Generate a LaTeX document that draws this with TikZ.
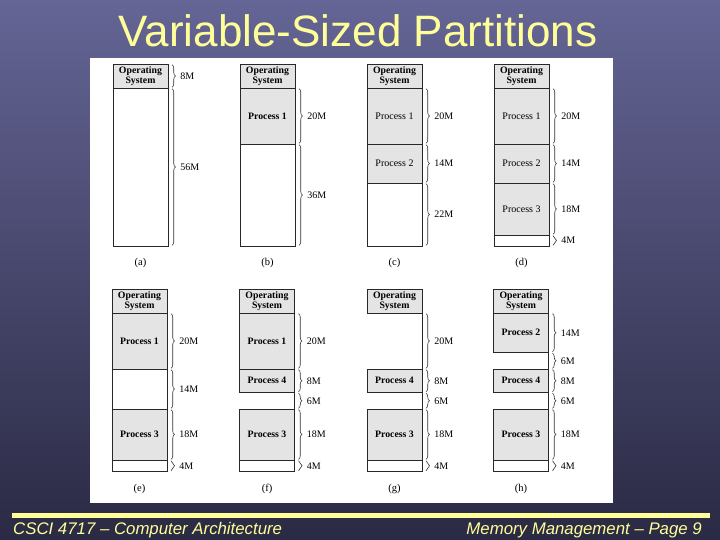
\documentclass[tikz,border=0pt]{standalone}
\usepackage{fontspec}
\setmainfont{Liberation Serif}
\newfontfamily\sansf{Liberation Sans}
\usetikzlibrary{decorations.pathreplacing,calc}
\definecolor{bgtop}{RGB}{101,101,150}
\definecolor{bgmid}{RGB}{80,80,123}
\definecolor{bgbot}{RGB}{42,42,68}
\definecolor{ylw}{RGB}{255,255,153}
\definecolor{boxgray}{RGB}{228,228,228}
\definecolor{edgecol}{RGB}{40,40,40}
\tikzset{
  memblk/.style={draw=edgecol, line width=0.8pt, fill=boxgray, inner sep=0pt, outer sep=0pt,
    minimum width=55pt, anchor=north west, align=center},
  freeblk/.style={draw=edgecol, line width=0.8pt, fill=none, inner sep=0pt, outer sep=0pt,
    minimum width=55pt, anchor=north west},
  openblk/.style={draw=none, fill=none, inner sep=0pt, outer sep=0pt,
    minimum width=55pt, anchor=north west},
  edgeline/.style={draw=edgecol, line width=0.8pt},
  bt/.style={font=\fontsize{9.8}{10}\selectfont\bfseries},
  rt/.style={font=\fontsize{10}{10}\selectfont},
  brc/.style={decorate, decoration={brace, amplitude=3.5pt}, draw=black!80, line width=0.6pt},
  blabel/.style={midway, anchor=west, xshift=8pt, inner sep=0pt, font=\fontsize{10}{10}\selectfont},
  sublabel/.style={inner sep=0pt, font=\fontsize{10.5}{10.5}\selectfont},
}
% name, x, ytop, ybot, style, text
\newcommand\mblk[6]{\node[#5, minimum height={(#4-#3)*1pt}] (#1) at (#2,#3) {#6};}
\newcommand\mbrace[2]{\draw[brc] ([shift={(4,0.7)}]#1.north east) -- ([shift={(4,-0.7)}]#1.south east) node[blabel] (#1-l) {#2};}
\newcommand\ros[2]{\node[memblk, bt, minimum height=24pt] (#1) at (#2,64) {Operating\\System};}
\newcommand\bos[2]{\node[memblk, bt, minimum height=24pt] (#1) at (#2,289) {Operating\\System};}
\begin{document}
\begin{tikzpicture}[x=1pt,y=-1pt]
\useasboundingbox (0,0) rectangle (720,540);
\shade[top color=bgtop, middle color=bgmid, bottom color=bgbot] (0,0) rectangle (720,540);
\fill[white] (90,58.5) rectangle (613,503);
\node[anchor=base, inner sep=0pt, text=ylw, font=\sansf\fontsize{44}{44}\selectfont] (title) at (358,47) {Variable-Sized Partitions};
\fill[ylw] (12,513) rectangle (710,518);
\node[anchor=base west, inner sep=0pt, text=ylw, font=\sansf\itshape\fontsize{16.8}{16.8}\selectfont] (footl) at (13,534) {CSCI 4717 – Computer Architecture};
\node[anchor=base east, inner sep=0pt, text=ylw, font=\sansf\itshape\fontsize{16.8}{16.8}\selectfont] (footr) at (702,534) {Memory Management – Page 9};

% ---------- (a)
\ros{aos}{113}
\mblk{a1}{113}{88}{246}{freeblk}{}
\mbrace{aos}{8M}
\mbrace{a1}{56M}
\node[sublabel] (la) at (140.5,263) {(a)};
% ---------- (b)
\ros{bos}{240}
\mblk{b1}{240}{88}{144}{memblk,bt}{Process 1}
\mblk{b2}{240}{144}{246}{freeblk}{}
\mbrace{b1}{20M}
\mbrace{b2}{36M}
\node[sublabel] (lb) at (267.5,263) {(b)};
% ---------- (c)
\ros{cos}{367}
\mblk{c1}{367}{88}{144}{memblk,rt}{Process 1}
\mblk{c2}{367}{144}{183}{memblk,rt}{Process 2}
\mblk{c3}{367}{183}{246}{freeblk}{}
\mbrace{c1}{20M}
\mbrace{c2}{14M}
\mbrace{c3}{22M}
\node[sublabel] (lc) at (394.5,263) {(c)};
% ---------- (d)
\ros{dos}{494}
\mblk{d1}{494}{88}{144}{memblk,rt}{Process 1}
\mblk{d2}{494}{144}{183}{memblk,rt}{Process 2}
\mblk{d3}{494}{183}{235}{memblk,rt}{Process 3}
\mblk{d4}{494}{235}{246}{freeblk}{}
\mbrace{d1}{20M}
\mbrace{d2}{14M}
\mbrace{d3}{18M}
\mbrace{d4}{4M}
\node[sublabel] (ld) at (521.5,263) {(d)};

% ---------- (e)
\bos{eos}{112}
\mblk{e1}{112}{313}{369}{memblk,bt}{Process 1}
\mblk{e2}{112}{369}{409}{freeblk}{}
\mblk{e3}{112}{409}{460}{memblk,bt}{Process 3}
\mblk{e4}{112}{460}{471.5}{freeblk}{}
\mbrace{e1}{20M}
\mbrace{e2}{14M}
\mbrace{e3}{18M}
\mbrace{e4}{4M}
\node[sublabel] (le) at (139.5,489) {(e)};
% ---------- (f)
\bos{fos}{239.5}
\mblk{f1}{239.5}{313}{369}{memblk,bt}{Process 1}
\mblk{f2}{239.5}{369}{392.5}{memblk,bt}{Process 4}
\mblk{f3}{239.5}{392.5}{409}{openblk}{}
\draw[edgeline] (f3.north east) -- (f3.south east);
\mblk{f4}{239.5}{409}{460}{memblk,bt}{Process 3}
\mblk{f5}{239.5}{460}{471.5}{freeblk}{}
\mbrace{f1}{20M}
\mbrace{f2}{8M}
\mbrace{f3}{6M}
\mbrace{f4}{18M}
\mbrace{f5}{4M}
\node[sublabel] (lf) at (267,489) {(f)};
% ---------- (g)
\bos{gos}{367}
\mblk{g1}{367}{313}{369}{openblk}{}
\draw[edgeline] (g1.north east) -- (g1.south east);
\mblk{g2}{367}{369}{392.5}{memblk,bt}{Process 4}
\mblk{g3}{367}{392.5}{409}{openblk}{}
\draw[edgeline] (g3.north east) -- (g3.south east);
\mblk{g4}{367}{409}{460}{memblk,bt}{Process 3}
\mblk{g5}{367}{460}{471.5}{freeblk}{}
\mbrace{g1}{20M}
\mbrace{g2}{8M}
\mbrace{g3}{6M}
\mbrace{g4}{18M}
\mbrace{g5}{4M}
\node[sublabel] (lg) at (394.5,489) {(g)};
% ---------- (h)
\bos{hos}{493.5}
\mblk{h1}{493.5}{313}{352.5}{memblk,bt}{Process 2}
\mblk{h2}{493.5}{352.5}{369}{openblk}{}
\draw[edgeline] (h2.north east) -- (h2.south east);
\mblk{h3}{493.5}{369}{392.5}{memblk,bt}{Process 4}
\mblk{h4}{493.5}{392.5}{409}{openblk}{}
\draw[edgeline] (h4.north east) -- (h4.south east);
\mblk{h5}{493.5}{409}{460}{memblk,bt}{Process 3}
\mblk{h6}{493.5}{460}{471.5}{freeblk}{}
\mbrace{h1}{14M}
\mbrace{h2}{6M}
\mbrace{h3}{8M}
\mbrace{h4}{6M}
\mbrace{h5}{18M}
\mbrace{h6}{4M}
\node[sublabel] (lh) at (521,489) {(h)};
\end{tikzpicture}
\end{document}
